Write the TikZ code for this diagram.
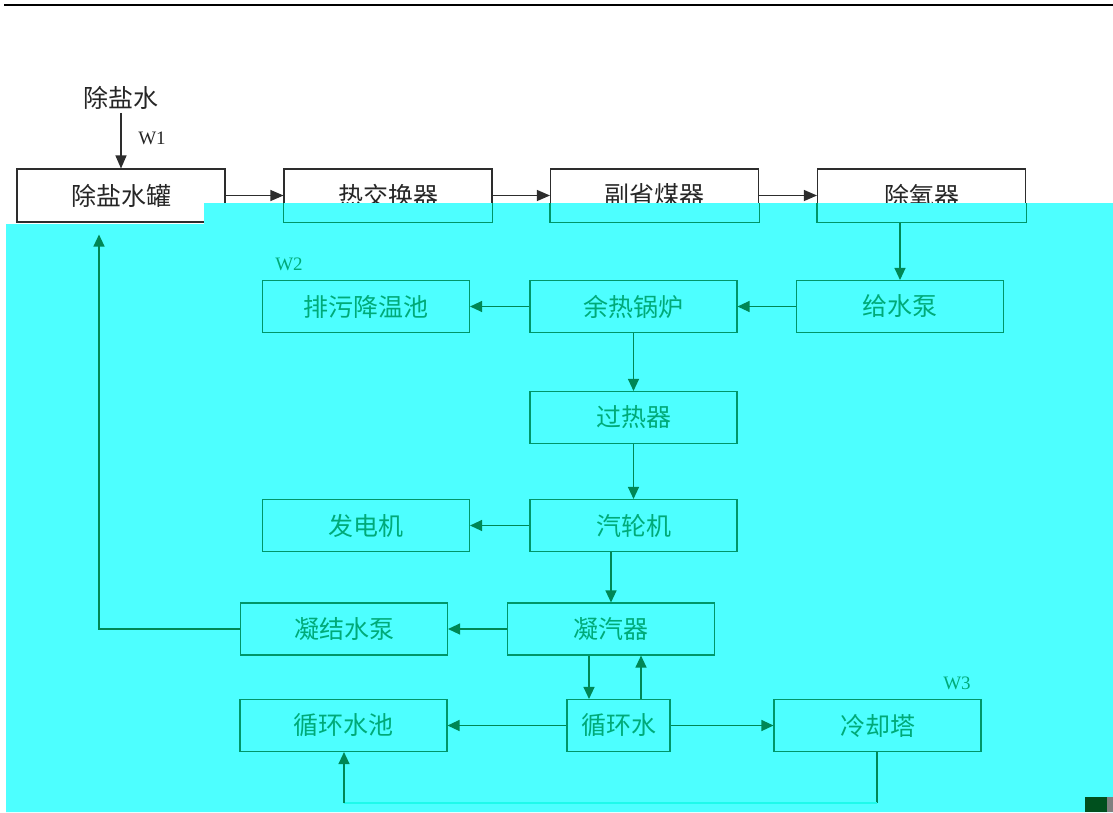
\documentclass[tikz,border=0pt]{standalone}
\usepackage{fontspec}
\setmainfont{Liberation Serif}
\newfontfamily\cjk{Noto Sans CJK SC}
\usetikzlibrary{arrows.meta}
\definecolor{cyanbg}{RGB}{77,255,255}
\definecolor{boxblack}{RGB}{45,45,45}
\definecolor{gboxc}{RGB}{0,150,105}
\definecolor{glinec}{RGB}{0,135,85}
\definecolor{gtextc}{RGB}{0,170,120}
\definecolor{glight}{RGB}{30,250,235}
\definecolor{glitchg}{RGB}{0,80,30}
\tikzset{
  cjkfont/.style={font=\cjk\fontsize{25}{27}\selectfont},
  bbox/.style={draw=boxblack, line width=1.1pt, minimum width=208pt, minimum height=53pt, inner sep=0pt, cjkfont, text=black!85},
  gbox/.style={draw=gboxc, line width=1.1pt, minimum width=207pt, minimum height=52pt, inner sep=0pt, cjkfont, text=gtextc},
  barrow/.style={draw=boxblack, line width=1.1pt, -{Triangle[length=13pt,width=11pt]}},
  garrow/.style={draw=glinec, line width=1.2pt, -{Triangle[length=12pt,width=11pt]}},
  gline/.style={draw=glinec, line width=1.2pt},
  wlabel/.style={font=\fontsize{19}{21}\selectfont, inner sep=0pt}
}
\begin{document}
\begin{tikzpicture}[x=1pt,y=-1pt]
\useasboundingbox (0,0) rectangle (1113,812);
\fill[white] (0,0) rectangle (1113,812);
% top rule
\draw[black, line width=2pt] (4,5) -- (1113,5);

% ---- white region (top) ----
\node[inner sep=0pt, cjkfont, text=black!85] (dsw) at (121,98) {除盐水};
\node[wlabel, text=black!85] (w1) at (152,138) {W1};
\node[bbox] (tank) at (121,195.5) {除盐水罐};
\node[bbox] (hex) at (388,195.5) {热交换器};
\node[bbox] (eco) at (654.5,195.5) {副省煤器};
\node[bbox] (dea) at (921.5,195.5) {除氧器};
\draw[barrow] (dsw.south) ++(0,3) -- (tank.north);
\draw[barrow] (tank.east) -- (hex.west);
\draw[barrow] (hex.east) -- (eco.west);
\draw[barrow] (eco.east) -- (dea.west);

% ---- cyan region ----
\fill[cyanbg] (6,224) -- (204,224) -- (204,203) -- (1113,203) -- (1113,812) -- (6,812) -- cycle;
% lower parts of the first-row boxes
\foreach \b in {hex,eco,dea}{
  \draw[draw=gboxc, line width=1.1pt] (\b.west |- 0,203) -- (\b.south west) -- (\b.south east) -- (\b.east |- 0,203);
}

\node[wlabel, text=gtextc] (w2) at (289,264) {W2};
\node[wlabel, text=gtextc] (w3) at (957,683) {W3};

\node[gbox] (blow) at (366,306.5) {排污降温池};
\node[gbox] (boil) at (633.5,306.5) {余热锅炉};
\node[gbox] (pump) at (900,306.5) {给水泵};
\node[gbox] (sup) at (633.5,417.5) {过热器};
\node[gbox] (gen) at (366,525.5) {发电机};
\node[gbox] (tur) at (633.5,525.5) {汽轮机};
\node[gbox] (cwp) at (344,629) {凝结水泵};
\node[gbox] (cond) at (611,629) {凝汽器};
\node[gbox] (pool) at (343.5,725.5) {循环水池};
\node[gbox, minimum width=103pt] (circ) at (618.5,725.5) {循环水};
\node[gbox] (tower) at (877.5,725.5) {冷却塔};

\draw[garrow] (pump.north |- dea.south) -- (pump.north);
\draw[garrow] (pump.west) -- (boil.east);
\draw[garrow] (boil.west) -- (blow.east);
\draw[garrow] (boil.south) -- (sup.north);
\draw[garrow] (sup.south) -- (tur.north);
\draw[garrow] (tur.west) -- (gen.east);
\draw[garrow] (cond.north |- tur.south) -- (cond.north);
\draw[garrow] (cond.west) -- (cwp.east);
\coordinate (ret) at (99,629);
\draw[garrow, shorten >=12pt] (cwp.west) -- (ret) -- (ret |- tank.south);
\coordinate (xd) at (589,0);
\coordinate (xu) at (641,0);
\draw[garrow] (cond.south -| xd) -- (circ.north -| xd);
\draw[garrow] (circ.north -| xu) -- (cond.south -| xu);
\draw[garrow] (circ.west) -- (pool.east);
\draw[garrow] (circ.east) -- (tower.west);
\coordinate (b1) at (877,803);
\coordinate (b2) at (344,803);
\draw[gline] (tower.south -| b1) -- (b1);
\draw[draw=glight, line width=1.2pt] (b1) -- (b2);
\draw[garrow] (b2) -- (pool.south -| b2);

% glitch block bottom right
\fill[glitchg] (1085,797) rectangle (1107,812);
\fill[gray] (1107,797) rectangle (1113,812);
\end{tikzpicture}
\end{document}
